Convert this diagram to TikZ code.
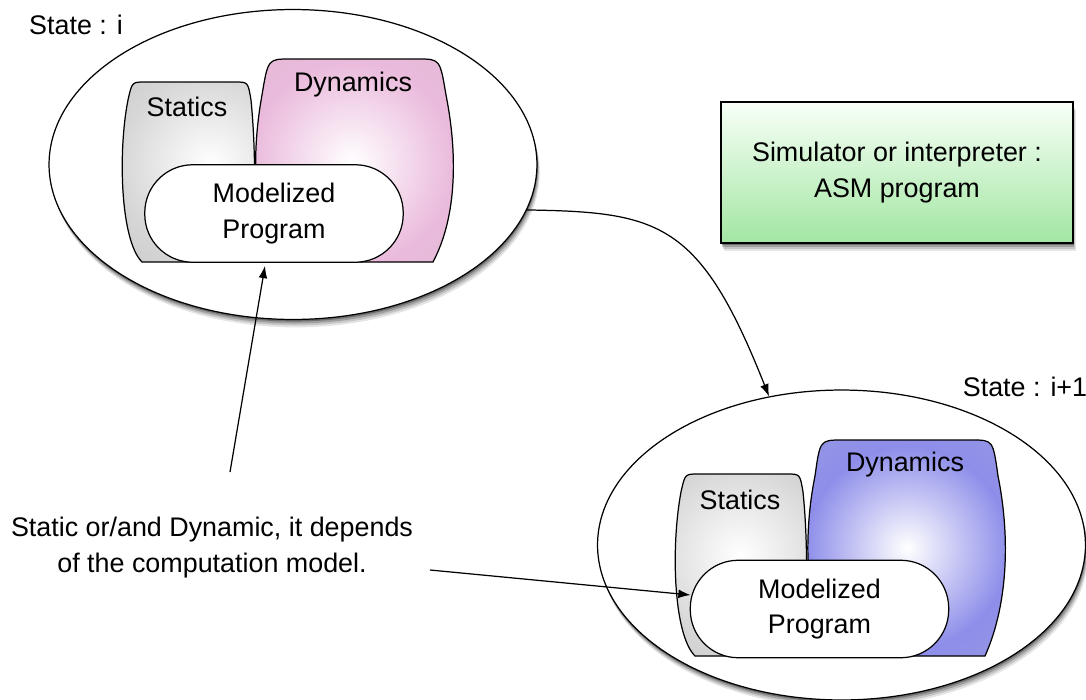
\documentclass[tikz,border=0pt]{standalone}
\usepackage{fontspec}
\setmainfont{Liberation Sans}
\usetikzlibrary{shapes.geometric,shadows,arrows.meta,calc}
\definecolor{pinkmid}{RGB}{234,186,220}
\definecolor{pinkedge}{RGB}{216,186,206}
\definecolor{bluemid}{RGB}{142,142,234}
\definecolor{blueedge}{RGB}{162,162,214}
\definecolor{greymid}{RGB}{214,214,214}
\definecolor{greyedge}{RGB}{190,190,190}
\definecolor{greentop}{RGB}{248,255,248}
\definecolor{greenbot}{RGB}{162,230,162}
\pgfdeclareradialshading{pinkglow}{\pgfpoint{0bp}{0bp}}{color(0bp)=(white); color(11bp)=(pinkmid); color(25bp)=(pinkedge); color(50bp)=(pinkedge)}
\pgfdeclareradialshading{blueglow}{\pgfpoint{0bp}{0bp}}{color(0bp)=(white); color(11bp)=(bluemid); color(25bp)=(blueedge); color(50bp)=(blueedge)}
\pgfdeclareradialshading{greyglow}{\pgfpoint{0bp}{0bp}}{color(0bp)=(white); color(12bp)=(greymid); color(25bp)=(greyedge); color(50bp)=(greyedge)}
\newcommand\dfont{\fontsize{15.3}{20.2}\selectfont}
\newcommand\glowshape[4]{%
  \begin{scope}\clip #1; \fill[#2] #1; \shade[shading=#3] #4; \end{scope}
  \draw #1;}
\begin{document}
\begin{tikzpicture}[x=0.02cm,y=-0.02cm,font=\dfont,line width=0.7pt,
  softshadow/.style={
     preaction={fill=black,opacity=0.10,transform canvas={xshift=1.6pt,yshift=-4.5pt}},
     preaction={fill=black,opacity=0.14,transform canvas={xshift=1.2pt,yshift=-3.4pt}},
     preaction={fill=black,opacity=0.20,transform canvas={xshift=0.8pt,yshift=-2.3pt}},
     preaction={fill=black,opacity=0.30,transform canvas={xshift=0.4pt,yshift=-1.2pt}}},
  state/.style={ellipse,draw,fill=white,minimum width=9.76cm,minimum height=6.2cm,inner sep=0pt,softshadow},
  mp/.style={draw,fill=white,rounded corners=0.96cm,minimum width=5.17cm,minimum height=1.95cm,align=center,inner sep=0pt},
  simbox/.style={draw,top color=greentop,bottom color=greenbot,minimum width=7.04cm,minimum height=2.82cm,align=center,softshadow},
  lbl/.style={inner sep=0pt,align=center},
  arr/.style={-{Latex[length=7pt,width=5pt]},line width=0.7pt}]
\useasboundingbox (0,0) rectangle (1086,700);

% ---------- state i ----------
\node[state] (e1) at (293,164.5) {};
\glowshape{(128,100) .. controls (132,82) .. (145,82) -- (235,82) .. controls (248,82) .. (251,100) .. controls (256,150) and (256,220) .. (250,262) -- (142,262) .. controls (120,240) and (118,150) .. cycle}{greyedge}{greyglow}{(210,165) circle (190)}
\glowshape{(262,95) .. controls (268,59) .. (290,59) -- (418,59) .. controls (440,59) .. (446,95) .. controls (457,150) and (458,215) .. (433,262) -- (275,262) .. controls (252,215) and (252,150) .. cycle}{pinkedge}{pinkglow}{(352,163) circle (230)}
\node[lbl] (st1) at (187,107) {Statics};
\node[lbl] (dy1) at (353,85) {Dynamics};
\node[mp] (mp1) at (274,213.5) {\raisebox{-2pt}{\parbox{4cm}{\centering Modelized\\Program}}};
\node[lbl] (s1) at (76,25) {State : i};

% ---------- state i+1 ----------
\node[state] (e2) at (841.5,545) {};
\glowshape{(681,492) .. controls (685,474) .. (698,474) -- (787,474) .. controls (800,474) .. (803,492) .. controls (808,540) and (808,610) .. (802,656) -- (695,656) .. controls (673,634) and (671,545) .. cycle}{greyedge}{greyglow}{(740,555) circle (190)}
\glowshape{(815,476) .. controls (820,440) .. (842,440) -- (972,440) .. controls (993,440) .. (998,476) .. controls (1009,530) and (1010,600) .. (985,656) -- (827,656) .. controls (804,600) and (804,530) .. cycle}{blueedge}{blueglow}{(907,548) circle (230)}
\node[lbl] (st2) at (740,500) {Statics};
\node[lbl] (dy2) at (905,465) {Dynamics};
\node[mp] (mp2) at (819.5,609) {\raisebox{-2pt}{\parbox{4cm}{\centering Modelized\\Program}}};
\node[lbl] (s2) at (1025,387) {State : i+1};

% ---------- simulator ----------
\node[simbox] (sim) at (897,172.5) {Simulator or interpreter :\\ASM program};

% ---------- comment ----------
\node[lbl] (txt) at (212,547.5) {Static or/and Dynamic, it depends\\of the computation model.};
\coordinate (a2s) at (230,472);
\coordinate (a3s) at (430,570);

% ---------- connectors ----------
\draw[arr] (e1.-11) .. controls (660,212) and (700,222) .. (e2.116.3);
\draw[arr] (a2s) -- ($(mp1.south)+(-9,3)$);
\draw[arr] (a3s) -- ($(mp2.west)+(1,-14)$);
\end{tikzpicture}
\end{document}
